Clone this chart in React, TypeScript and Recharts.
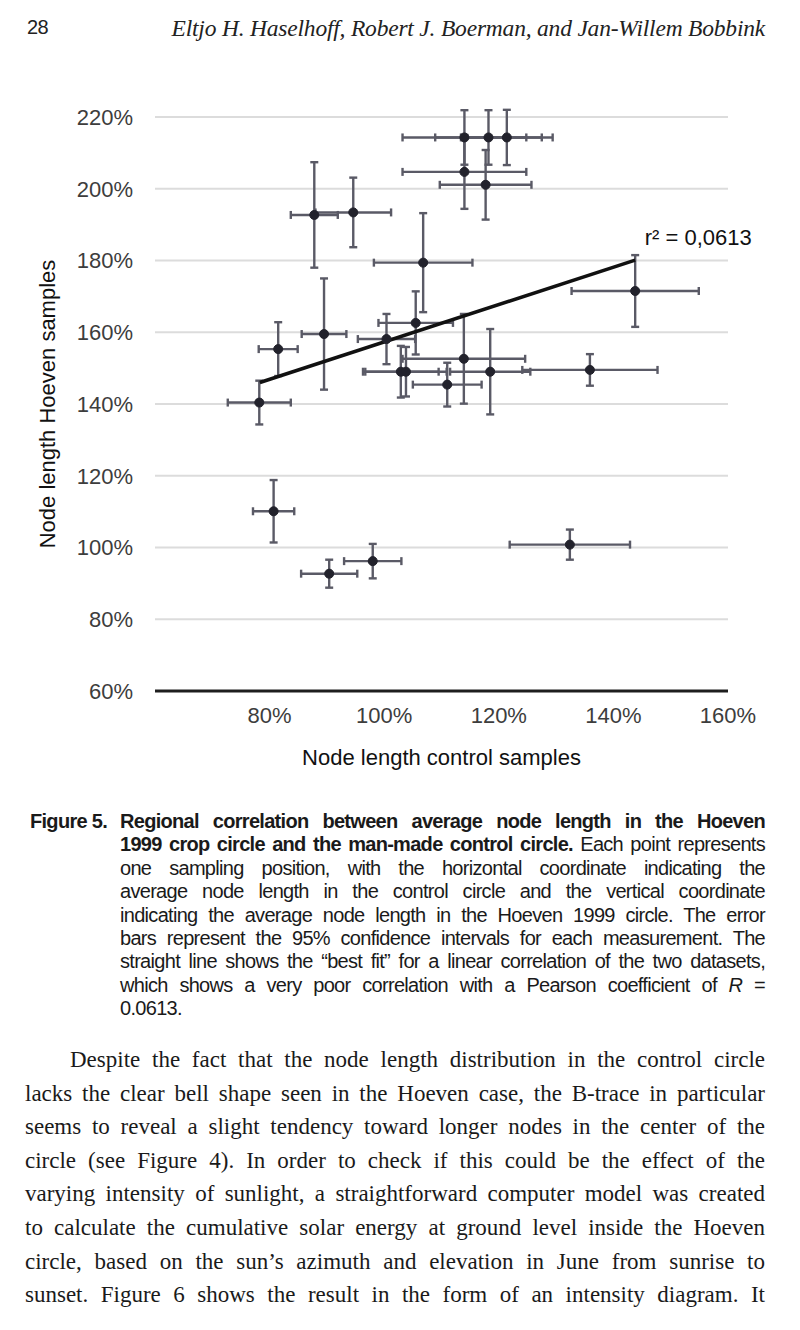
import {
  CartesianGrid,
  ErrorBar,
  Label,
  ReferenceDot,
  ReferenceLine,
  Scatter,
  ScatterChart,
  XAxis,
  YAxis,
} from "recharts";

// node length per sampling position, % of reference, with 95% CI half widths
const controlLength = [87.8, 94.6, 106.8, 78.2, 81.5, 89.5, 100.4, 105.5, 102.9, 103.8, 114.0, 118.2, 121.4, 114.0, 117.7, 143.8, 113.9, 118.5, 111.0, 135.9, 80.7, 90.4, 98.0, 132.4];
const controlCi = [4.1, 6.6, 8.6, 5.5, 3.4, 3.9, 5.0, 6.5, 6.6, 7.1, 10.8, 9.3, 8.0, 10.8, 8.0, 11.1, 10.7, 7.0, 6.0, 11.8, 3.6, 4.9, 5.0, 10.5];
const hoevenLength = [192.7, 193.4, 179.4, 140.4, 155.3, 159.5, 158.1, 162.6, 149.0, 149.0, 214.3, 214.3, 214.3, 204.7, 201.1, 171.5, 152.6, 149.0, 145.4, 149.5, 110.1, 92.7, 96.2, 100.8];
const hoevenCi = [14.7, 9.7, 13.8, 6.1, 7.5, 15.5, 7.0, 8.8, 7.2, 6.9, 7.6, 7.6, 7.7, 10.3, 9.7, 10.0, 12.5, 11.9, 6.1, 4.4, 8.7, 3.9, 4.8, 4.2];

const xTicks = [80, 100, 120, 140, 160];
const yTicks = [60, 80, 100, 120, 140, 160, 180, 200, 220];

// best fit line end points
const fitX = [78.3, 143.8];
const fitY = [146.0, 180.1];
const fitLabel = "r² = 0,0613";
const fitLabelAt = { x: 154.8, y: 186.6 };

const points = controlLength.map((x, i) => ({
  x,
  xErr: controlCi[i],
  y: hoevenLength[i],
  yErr: hoevenCi[i],
}));

const captionLines = [
  [<b key="b">Regional correlation between average node length in the Hoeven</b>],
  [<b key="b">1999 crop circle and the man-made control circle.</b>, " Each point represents"],
  ["one sampling position, with the horizontal coordinate indicating the"],
  ["average node length in the control circle and the vertical coordinate"],
  ["indicating the average node length in the Hoeven 1999 circle. The error"],
  ["bars represent the 95% confidence intervals for each measurement. The"],
  ["straight line shows the \u201cbest fit\u201d for a linear correlation of the two datasets,"],
  ["which shows a very poor correlation with a Pearson coefficient of ", <i key="i">R</i>, " ="],
];

const bodyLines = [
  "Despite the fact that the node length distribution in the control circle",
  "lacks the clear bell shape seen in the Hoeven case, the B-trace in particular",
  "seems to reveal a slight tendency toward longer nodes in the center of the",
  "circle (see Figure 4). In order to check if this could be the effect of the",
  "varying intensity of sunlight, a straightforward computer model was created",
  "to calculate the cumulative solar energy at ground level inside the Hoeven",
  "circle, based on the sun\u2019s azimuth and elevation in June from sunrise to",
  "sunset. Figure 6 shows the result in the form of an intensity diagram. It",
];

const pct = (v: number) => `${v}%`;
const chartFont = '"Liberation Sans", Arial, Helvetica, sans-serif';
const captionFont = '"Liberation Sans", Arial, sans-serif';

function YTitle({ viewBox }: any) {
  const cx = (viewBox?.x ?? 0) + 47;
  const cy = (viewBox?.y ?? 117) + (viewBox?.height ?? 574) / 2;
  return (
    <text
      x={cx}
      y={cy}
      transform={`rotate(-90 ${cx} ${cy})`}
      textAnchor="middle"
      dominantBaseline="central"
      fill="#111"
      fontSize={22}
    >
      Node length Hoeven samples
    </text>
  );
}

const justified = {
  textAlign: "justify" as const,
  textAlignLast: "justify" as const,
  whiteSpace: "nowrap" as const,
};

export default function App() {
  return (
    <div style={{ position: "relative", width: 800, height: 1330, background: "#fff", overflow: "hidden" }}>
      <style>{"body{margin:0}"}</style>

      <div style={{ position: "absolute", left: 27, top: 15, fontFamily: captionFont, fontSize: 20, lineHeight: "24px", color: "#222", letterSpacing: -0.6 }}>
        28
      </div>
      <div
        style={{
          position: "absolute",
          right: 35,
          top: 14,
          fontFamily: '"Liberation Serif", serif',
          fontStyle: "italic",
          fontSize: 23.5,
          lineHeight: "28px",
          color: "#222",
          letterSpacing: -0.2,
        }}
      >
        Eltjo H. Haselhoff, Robert J. Boerman, and Jan-Willem Bobbink
      </div>

      <div style={{ position: "absolute", left: 0, top: 0, fontFamily: chartFont }}>
        <ScatterChart width={800} height={823} margin={{ top: 117, right: 72, bottom: 0, left: 0 }}>
          <CartesianGrid vertical={false} stroke="#dcdcdc" strokeWidth={2} />
          <XAxis
            type="number"
            dataKey="x"
            domain={[60, 160]}
            ticks={xTicks}
            tickFormatter={pct}
            height={132}
            tickLine={false}
            tickMargin={10}
            axisLine={{ stroke: "#1e1e1e", strokeWidth: 3 }}
            tick={{ fill: "#3d3d3d", fontSize: 22 }}
            allowDataOverflow
          >
            <Label value="Node length control samples" position="center" fill="#111" fontSize={22} />
          </XAxis>
          <YAxis
            type="number"
            dataKey="y"
            domain={[60, 220]}
            ticks={yTicks}
            tickFormatter={pct}
            width={155}
            tickLine={false}
            axisLine={false}
            tickMargin={16}
            tick={{ fill: "#3d3d3d", fontSize: 22 }}
            label={<YTitle />}
            allowDataOverflow
          />
          <Scatter data={points} fill="#22222c" stroke="#22222c" isAnimationActive={false}>
            <ErrorBar dataKey="xErr" direction="x" width={4} stroke="#5a5a66" strokeWidth={2.4} isAnimationActive={false} />
            <ErrorBar dataKey="yErr" direction="y" width={4} stroke="#5a5a66" strokeWidth={2.4} isAnimationActive={false} />
          </Scatter>
          <ReferenceLine
            segment={[
              { x: fitX[0], y: fitY[0] },
              { x: fitX[1], y: fitY[1] },
            ]}
            stroke="#111"
            strokeWidth={3.5}
          />
          <ReferenceDot
            x={fitLabelAt.x}
            y={fitLabelAt.y}
            r={0}
            fill="none"
            stroke="none"
            ifOverflow="visible"
            label={{ value: fitLabel, position: "center", fill: "#111", fontSize: 22 }}
          />
        </ScatterChart>
      </div>

      <div
        style={{
          position: "absolute",
          left: 30,
          top: 810,
          fontFamily: captionFont,
          fontSize: 20,
          lineHeight: "23.4px",
          color: "#1a1a1a",
          letterSpacing: -0.7,
        }}
      >
        <b style={{ position: "absolute", left: 0, top: 0, whiteSpace: "nowrap" }}>Figure 5.</b>
        <div style={{ position: "absolute", left: 90, top: 0, width: 645 }}>
          {captionLines.map((parts, i) => (
            <div key={i} style={justified}>
              {parts}
            </div>
          ))}
          <div>0.0613.</div>
        </div>
      </div>

      <div
        style={{
          position: "absolute",
          left: 25,
          top: 1043,
          width: 740,
          fontFamily: '"Liberation Serif", serif',
          fontSize: 23,
          lineHeight: "33.6px",
          color: "#1a1a1a",
        }}
      >
        {bodyLines.map((line, i) => (
          <div key={i} style={{ ...justified, paddingLeft: i === 0 ? 45 : 0 }}>
            {line}
          </div>
        ))}
      </div>
    </div>
  );
}
